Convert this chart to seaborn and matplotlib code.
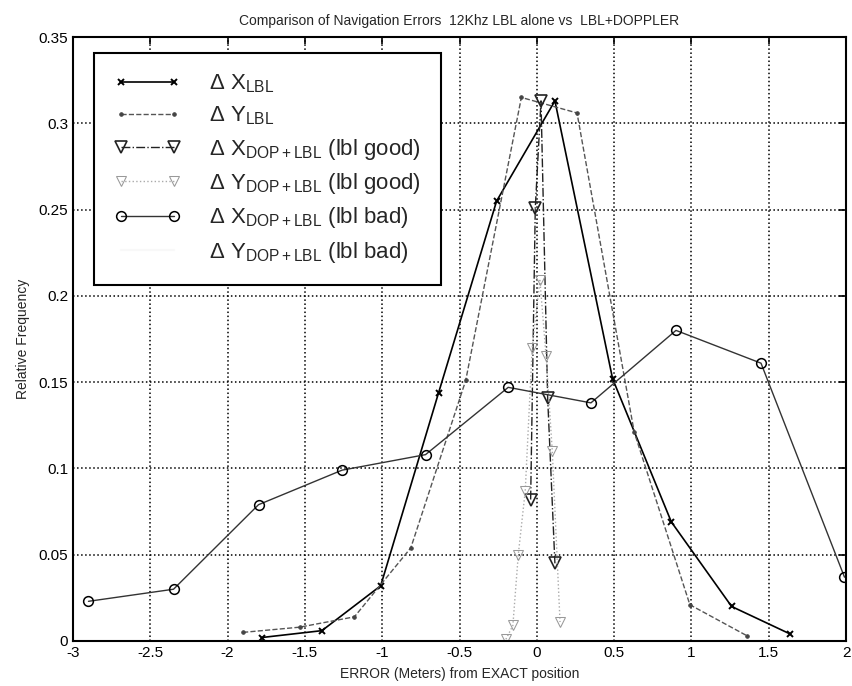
import matplotlib
matplotlib.use("Agg")
import matplotlib.pyplot as plt
import seaborn as sns
import numpy as np

# ---- data ----
x_lbl = [-1.78, -1.39, -1.01, -0.635, -0.26, 0.117, 0.49, 0.87, 1.26, 1.64]
dx_lbl = [0.002, 0.006, 0.032, 0.144, 0.255, 0.313, 0.152, 0.069, 0.020, 0.004]

y_lbl_x = [-1.90, -1.535, -1.18, -0.815, -0.46, -0.10, 0.26, 0.63, 0.99, 1.36]
dy_lbl = [0.005, 0.008, 0.014, 0.054, 0.151, 0.315, 0.306, 0.121, 0.021, 0.003]

x_dop_good = [-0.04, -0.01, 0.027, 0.07, 0.117]
dx_dop_good = [0.082, 0.251, 0.313, 0.141, 0.045]

y_dop_good_x = [-0.20, -0.155, -0.12, -0.075, -0.03, 0.02, 0.06, 0.10, 0.15]
dy_dop_good = [0.001, 0.009, 0.050, 0.087, 0.170, 0.209, 0.165, 0.110, 0.011]

x_dop_bad = [-2.90, -2.35, -1.80, -1.26, -0.72, -0.185, 0.35, 0.90, 1.45, 1.99]
dx_dop_bad = [0.023, 0.030, 0.079, 0.099, 0.108, 0.147, 0.138, 0.180, 0.161, 0.037]

x_ticks = [-3, -2.5, -2, -1.5, -1, -0.5, 0, 0.5, 1, 1.5, 2]
x_ticklabels = ["-3", "-2.5", "-2", "-1.5", "-1", "-0.5", "0", "0.5", "1", "1.5", "2"]
y_ticks = [0, 0.05, 0.1, 0.15, 0.2, 0.25, 0.3, 0.35]
y_ticklabels = ["0", "0.05", "0.1", "0.15", "0.2", "0.25", "0.3", "0.35"]

labels = [
    r"$\Delta\ \mathrm{X}_{\mathrm{LBL}}$",
    r"$\Delta\ \mathrm{Y}_{\mathrm{LBL}}$",
    r"$\Delta\ \mathrm{X}_{\mathrm{DOP+LBL}}$ (lbl good)",
    r"$\Delta\ \mathrm{Y}_{\mathrm{DOP+LBL}}$ (lbl good)",
    r"$\Delta\ \mathrm{X}_{\mathrm{DOP+LBL}}$ (lbl bad)",
    r"$\Delta\ \mathrm{Y}_{\mathrm{DOP+LBL}}$ (lbl bad)",
]

sns.set_style("white")
plt.rcParams["font.family"] = ["Liberation Sans", "DejaVu Sans"]
plt.rcParams["mathtext.fontset"] = "custom"
plt.rcParams["mathtext.rm"] = "Liberation Sans"
plt.rcParams["mathtext.it"] = "Liberation Sans:italic"
plt.rcParams["mathtext.bf"] = "Liberation Sans:bold"

fig = plt.figure(figsize=(8.52, 6.86), dpi=100)
ax = fig.add_axes([0.0857, 0.0656, 0.9073, 0.8804])

sns.lineplot(x=x_lbl, y=dx_lbl, ax=ax, color="black", linestyle="-", linewidth=1.2,
             marker="x", markersize=5, markeredgecolor="black", markeredgewidth=1.4,
             sort=False, estimator=None, label=labels[0])
sns.lineplot(x=y_lbl_x, y=dy_lbl, ax=ax, color="#555555", linestyle="--", linewidth=1.0,
             marker=".", markersize=5, markeredgecolor="#444444", markerfacecolor="#444444",
             sort=False, estimator=None, label=labels[1])
sns.lineplot(x=x_dop_good, y=dx_dop_good, ax=ax, color="#222222", linestyle="-.", linewidth=1.0,
             marker="v", markersize=8, markerfacecolor="none", markeredgecolor="#222222",
             markeredgewidth=1.2, sort=False, estimator=None, label=labels[2])
sns.lineplot(x=y_dop_good_x, y=dy_dop_good, ax=ax, color="#aaaaaa", linestyle=":", linewidth=1.0,
             marker="v", markersize=7, markerfacecolor="none", markeredgecolor="#999999",
             sort=False, estimator=None, label=labels[3])
sns.lineplot(x=x_dop_bad, y=dx_dop_bad, ax=ax, color="#333333", linestyle="-", linewidth=1.0,
             marker="o", markersize=7, markerfacecolor="none", markeredgecolor="black",
             markeredgewidth=1.1, sort=False, estimator=None, label=labels[4])
ax.plot([], [], color="#f8f8f8", linestyle="-", label=labels[5])

ax.set_xlim(-3, 2)
ax.set_ylim(0, 0.35)
ax.set_xticks(x_ticks)
ax.set_xticklabels(x_ticklabels, fontsize=11)
ax.set_yticks(y_ticks)
ax.set_yticklabels(y_ticklabels, fontsize=11)
ax.tick_params(direction="in", length=5, width=1.2, top=True, right=True, colors="black")
ax.grid(True, linestyle=":", color="black", linewidth=1.1)
for s in ax.spines.values():
    s.set_color("black")
    s.set_linewidth(1.5)

ax.set_title("Comparison of Navigation Errors  12Khz LBL alone vs  LBL+DOPPLER",
             fontsize=10, pad=9)
ax.set_xlabel("ERROR (Meters) from EXACT position", fontsize=10, labelpad=5)
ax.set_ylabel("Relative Frequency", fontsize=10, labelpad=6)

leg = ax.legend(loc="upper left", bbox_to_anchor=(0.027, 0.974), borderaxespad=0,
                fontsize=16, numpoints=2, handlelength=3.0, handletextpad=1.3,
                labelspacing=0.42, frameon=True, fancybox=False, borderpad=0.9)
leg.get_frame().set_edgecolor("black")
leg.get_frame().set_linewidth(1.5)
leg.get_frame().set_alpha(1)

fig.savefig("out.png", dpi=100)
